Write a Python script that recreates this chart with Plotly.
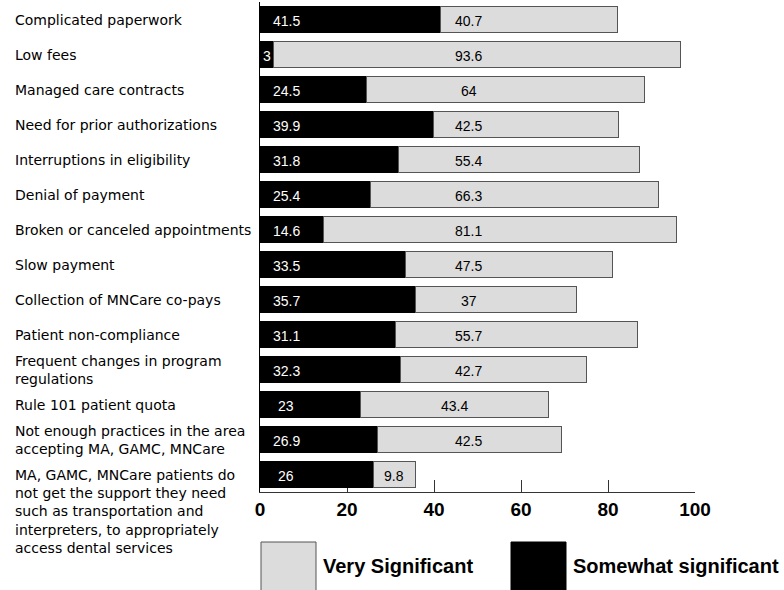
import plotly.graph_objects as go

categories = [
    "Complicated paperwork",
    "Low fees",
    "Managed care contracts",
    "Need for prior authorizations",
    "Interruptions in eligibility",
    "Denial of payment",
    "Broken or canceled appointments",
    "Slow payment",
    "Collection of MNCare co-pays",
    "Patient non-compliance",
    "Frequent changes in program<br>regulations",
    "Rule 101 patient quota",
    "Not enough practices in the area<br>accepting MA, GAMC, MNCare",
    "MA, GAMC, MNCare patients do<br>not get the support they need<br>such as transportation and<br>interpreters, to appropriately<br>access dental services",
]
somewhat = [41.5, 3, 24.5, 39.9, 31.8, 25.4, 14.6, 33.5, 35.7, 31.1, 32.3, 23, 26.9, 26]
very = [40.7, 93.6, 64, 42.5, 55.4, 66.3, 81.1, 47.5, 37, 55.7, 42.7, 43.4, 42.5, 9.8]
tick_values = [0, 20, 40, 60, 80, 100]

W, H = 784, 590
ML, MR, MT, MB = 260, 89, 2, 98
PW = W - ML - MR
PH = H - MT - MB

def px_x(px):
    return (px - ML) / PW

def px_y(py):
    return (H - MB - py) / PH

ys = list(range(len(categories)))
GRAY = "#DCDCDC"

fig = go.Figure()
fig.add_trace(go.Bar(
    y=ys, x=somewhat, orientation="h", name="Somewhat significant",
    marker=dict(color="#000000", line=dict(color="#000000", width=1)),
    width=0.74, hoverinfo="x",
))
fig.add_trace(go.Bar(
    y=ys, x=very, orientation="h", name="Very Significant",
    marker=dict(color=GRAY, line=dict(color="#555555", width=1)),
    width=0.74, hoverinfo="x",
))

annotations = []
val_font = "Liberation Sans, Arial, sans-serif"
for i, (s, v) in enumerate(zip(somewhat, very)):
    annotations.append(dict(
        x=min(s / 2, 6), y=i, xref="x", yref="y", text=f"{s:g}",
        showarrow=False, xanchor="center", yanchor="middle", yshift=-1,
        font=dict(family=val_font, size=14, color="white"),
    ))
    annotations.append(dict(
        x=min(s + v / 2, 48), y=i, xref="x", yref="y", text=f"{v:g}",
        showarrow=False, xanchor="center", yanchor="middle", yshift=-1,
        font=dict(family=val_font, size=14, color="black"),
    ))

cat_font = dict(family="DejaVu Sans, sans-serif", size=14, color="black")
for i, c in enumerate(categories):
    last = i == len(categories) - 1
    annotations.append(dict(
        x=px_x(13), xref="paper", y=i, yref="y", text=c,
        showarrow=False, xanchor="left", align="left",
        yanchor="top" if last else "middle",
        yshift=10 if last else 0,
        font=cat_font,
    ))

leg_font = dict(family="Liberation Sans, Arial, sans-serif", size=20, color="black")
annotations.append(dict(
    x=px_x(321), y=px_y(566), xref="paper", yref="paper", text="<b>Very Significant</b>",
    showarrow=False, xanchor="left", yanchor="middle", font=leg_font,
))
annotations.append(dict(
    x=px_x(571), y=px_y(566), xref="paper", yref="paper", text="<b>Somewhat significant</b>",
    showarrow=False, xanchor="left", yanchor="middle", font=leg_font,
))

shapes = [
    dict(type="rect", xref="paper", yref="paper",
         x0=px_x(261), x1=px_x(316), y0=px_y(542), y1=px_y(600),
         fillcolor=GRAY, line=dict(color="#555555", width=1)),
    dict(type="rect", xref="paper", yref="paper",
         x0=px_x(511), x1=px_x(566), y0=px_y(542), y1=px_y(600),
         fillcolor="#000000", line=dict(color="#000000", width=1)),
]

fig.update_layout(
    width=W, height=H,
    margin=dict(l=ML, r=MR, t=MT, b=MB, pad=0),
    barmode="stack",
    showlegend=False,
    plot_bgcolor="white", paper_bgcolor="white",
    annotations=annotations,
    shapes=shapes,
    xaxis=dict(
        range=[0, 100], tickvals=tick_values, ticks="inside", ticklen=12,
        tickcolor="#333333", tickwidth=1,
        showline=True, linecolor="#333333", linewidth=1,
        showgrid=False, zeroline=False, layer="below traces",
        tickfont=dict(family="Liberation Sans, Arial, sans-serif", size=19, color="black", weight="bold"),
        ticklabelstandoff=0,
    ),
    yaxis=dict(
        range=[len(categories) - 0.5, -0.5], showticklabels=False, ticks="",
        showline=True, linecolor="#000000", linewidth=1,
        showgrid=False, zeroline=False,
    ),
)

fig.write_html(
    "out.html",
    config={"displayModeBar": False},
    post_script="document.body.style.margin='0px';document.body.style.overflow='hidden';",
)
